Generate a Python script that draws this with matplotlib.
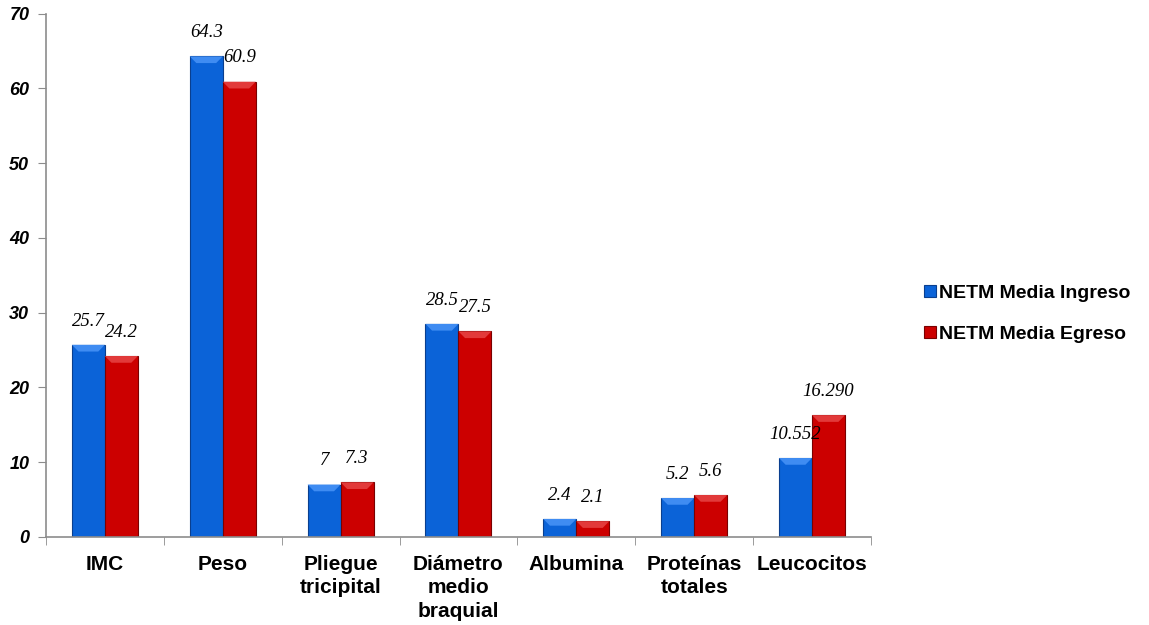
import numpy as np
import matplotlib.pyplot as plt

categorias = ['IMC', 'Peso', 'Pliegue\ntricipital', 'Diámetro\nmedio\nbraquial',
              'Albumina', 'Proteínas\ntotales', 'Leucocitos']
ingreso = [25.7, 64.3, 7, 28.5, 2.4, 5.2, 10.552]
egreso = [24.2, 60.9, 7.3, 27.5, 2.1, 5.6, 16.290]
etiq_ingreso = ['25.7', '64.3', '7', '28.5', '2.4', '5.2', '10.552']
etiq_egreso = ['24.2', '60.9', '7.3', '27.5', '2.1', '5.6', '16.290']

fig = plt.figure(figsize=(11.49, 6.25), dpi=100)
ax = fig.add_axes([0.040, 0.141, 0.718, 0.837])

x = np.arange(len(categorias))
w = 0.28
b1 = ax.bar(x - w / 2, ingreso, w, color='#0b63d8', edgecolor='#0a3f8f', linewidth=0.8,
            label='NETM Media Ingreso')
b2 = ax.bar(x + w / 2, egreso, w, color='#cc0000', edgecolor='#7a0000', linewidth=0.8,
            label='NETM Media Egreso')

# bisel claro arriba de cada barra
for barras, claro in ((b1, '#3f8cf2'), (b2, '#e23a3a')):
    for r in barras:
        x0, x1 = r.get_x(), r.get_x() + r.get_width()
        h = r.get_height()
        d = min(0.9, h * 0.5)
        ax.fill([x0, x1, x1 - w * 0.2, x0 + w * 0.2], [h, h, h - d, h - d],
                color=claro, lw=0, zorder=3)

for barras, etiq in ((b1, etiq_ingreso), (b2, etiq_egreso)):
    for r, t in zip(barras, etiq):
        ax.annotate(t, (r.get_x() + r.get_width() / 2, r.get_height()),
                    xytext=(0, 11), textcoords='offset points', ha='center', va='bottom',
                    family='Liberation Serif', style='italic', fontsize=13.5)

ax.set_xlim(-0.5, len(categorias) - 0.5)
ax.set_ylim(0, 70)
ax.set_yticks(range(0, 71, 10))
ax.set_yticklabels([str(v) for v in range(0, 71, 10)], family='Liberation Sans',
                   weight='bold', style='italic', fontsize=13)
ax.set_xticks(x)
ax.set_xticklabels(categorias, family='Liberation Sans', weight='bold', fontsize=15,
                   va='top', linespacing=1.3)
ax.set_xticks(np.arange(-0.5, len(categorias), 1), minor=True)
ax.tick_params(axis='x', which='major', length=0, pad=13)
ax.tick_params(axis='x', which='minor', length=6, color='#8c8c8c')
ax.tick_params(axis='y', length=6, color='#8c8c8c', pad=6)

for s in ('top', 'right'):
    ax.spines[s].set_visible(False)
for s in ('left', 'bottom'):
    ax.spines[s].set_color('#8c8c8c')
    ax.spines[s].set_linewidth(1.2)

leg = fig.legend(handles=[b1, b2], loc='center left', bbox_to_anchor=(0.789, 0.498),
                 frameon=False, handlelength=0.6, handleheight=0.6, handletextpad=0.15,
                 labelspacing=1.25, prop={'family': 'Liberation Sans', 'weight': 'bold', 'size': 14})

fig.savefig('out.png', dpi=100)
